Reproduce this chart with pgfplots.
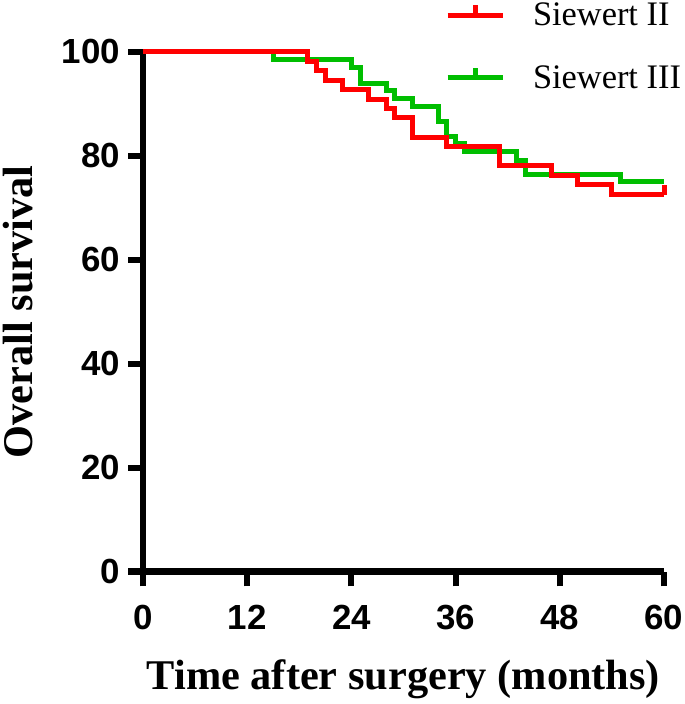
\documentclass[border=0pt]{standalone}
\usepackage{fontspec}
\setmainfont{Liberation Serif}
\setsansfont{Liberation Sans}
\usepackage{pgfplots}
\pgfplotsset{compat=1.18}
\definecolor{kmred}{RGB}{255,0,0}
\definecolor{kmgreen}{RGB}{0,190,0}
\pgfdeclareplotmark{uptick}{%
  \pgfpathmoveto{\pgfqpoint{0pt}{0pt}}%
  \pgfpathlineto{\pgfqpoint{0pt}{10bp}}%
  \pgfusepathqstroke}
\begin{document}
\begin{tikzpicture}
\begin{axis}[
  at={(143bp,132.5bp)}, anchor=south west,
  scale only axis, width=521bp, height=519.5bp,
  xmin=0, xmax=60, ymin=0, ymax=100,
  xtick={0,12,24,36,48,60}, ytick={0,20,40,60,80,100},
  minor tick num=0,
  axis x line*=bottom, axis y line*=left,
  xtick pos=bottom, ytick pos=left,
  axis line style={-, line width=6bp, black},
  every tick/.style={line width=6bp, black},
  major tick length=15bp, xtick align=outside, ytick align=outside,
  /pgf/number format/assume math mode=true,
  tick label style={font=\fontsize{35}{35}\selectfont\sffamily\bfseries, inner sep=0pt},
  xticklabel style={yshift=-18bp},
  yticklabel style={xshift=-8bp},
  xlabel={Time after surgery (months)},
  ylabel={Overall survival},
  every axis x label/.style={at={(axis description cs:0.5,-0.228)}, anchor=base},
  every axis y label/.style={at={(axis description cs:-0.213,0.5)}, rotate=90, anchor=base},
  label style={font=\fontsize{42.5}{42.5}\selectfont\bfseries, inner sep=0pt},
  clip=false,
  reverse legend,
  legend style={at={(axis description cs:0.5797,1.0952)}, anchor=north west,
    draw=none, fill=none, inner sep=0pt, outer sep=0pt,
    font=\fontsize{34.5}{34.5}\selectfont, row sep=38bp, column sep=28bp,
    nodes={inner sep=0pt, outer sep=0pt}},
  legend cell align=left,
  legend image code/.code={%
    \draw[#1, mark=none] (0bp,0bp) -- (55bp,0bp);
    \draw[#1, mark=none] (27.5bp,0bp) -- (27.5bp,10bp);},
]
\addplot[kmgreen, line width=5bp, const plot, mark=none] coordinates {
 (0,100) (15,98.5) (24,97) (25,94) (28,92.5) (29,91) (31,89.6) (34,86.6)
 (35,83.7) (36,82.3) (37,80.8) (43,79.2) (44,76.5) (55,75) (60,75)};
\addlegendentry{Siewert III}
\addplot[kmred, line width=5bp, const plot, mark=uptick, mark indices={15}, mark options={solid}] coordinates {
 (0,100) (19,98.2) (20,96.4) (21,94.5) (23,92.7) (26,90.9) (28,89.1) (29,87.3)
 (31,83.6) (35,81.8) (41,78.2) (47,76.3) (50,74.4) (54,72.5) (60,72.5)};
\addlegendentry{Siewert II}
\end{axis}
\pgfresetboundingbox
\path[use as bounding box] (0bp,0bp) rectangle (685bp,704bp);
\end{tikzpicture}
\end{document}
